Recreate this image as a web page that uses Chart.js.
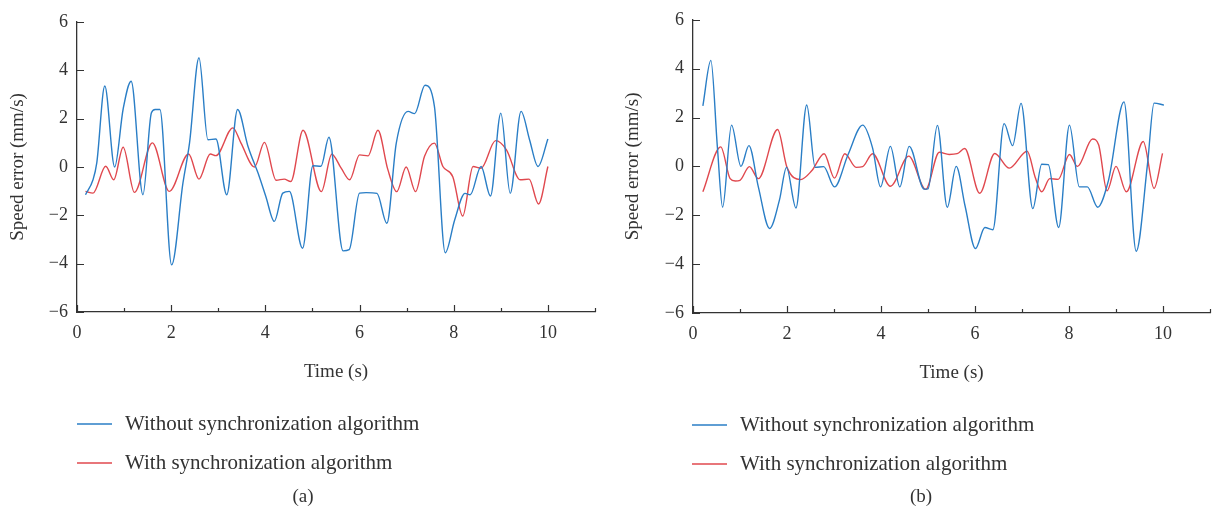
<!DOCTYPE html>
<html>
<head>
<meta charset="utf-8">
<title>Speed error</title>
<script src="https://cdn.jsdelivr.net/npm/chart.js@4.4.1/dist/chart.umd.min.js"></script>
<style>
  body { margin: 0; background: #fff; }
  .panel { position: absolute; top: 0; width: 610px; height: 516px; }
</style>
</head>
<body>
<div class="panel" style="left:0"><canvas id="chartA" width="610" height="516"></canvas></div>
<div class="panel" style="left:610px"><canvas id="chartB" width="610" height="516"></canvas></div>
<script>
// ---- data ----
const seriesLabels = ['Without synchronization algorithm', 'With synchronization algorithm'];
const xTickValues = [0, 2, 4, 6, 8, 10];
const yTickValues = [-6, -4, -2, 0, 2, 4, 6];

// panel (a)
const timeA_without = [0.18, 0.34, 0.42, 0.59, 0.80, 0.98, 1.15, 1.40, 1.58, 1.66, 1.76, 2.01, 2.25, 2.39, 2.59, 2.78, 2.95, 3.18, 3.41, 3.63, 3.87, 4.01, 4.19, 4.37, 4.51, 4.79, 5.01, 5.18, 5.35, 5.65, 5.78, 6.00, 6.14, 6.37, 6.58, 6.78, 7.03, 7.17, 7.39, 7.59, 7.82, 8.02, 8.24, 8.35, 8.58, 8.78, 9.00, 9.20, 9.43, 9.61, 9.79, 10.0];
const speedA_without = [-1.15, -0.53, 0.17, 3.35, 0.0, 2.4, 3.55, -1.15, 2.24, 2.38, 2.38, -4.05, -0.66, 1.0, 4.52, 1.13, 1.16, -1.15, 2.38, 0.86, -0.39, -1.22, -2.25, -1.08, -1.01, -3.36, 0.05, 0.03, 1.23, -3.47, -3.42, -1.08, -1.06, -1.09, -2.33, 0.99, 2.30, 2.21, 3.38, 2.51, -3.55, -2.19, -1.09, -1.15, 0.02, -1.20, 2.23, -1.09, 2.30, 1.13, 0.02, 1.16];
const timeA_with = [0.18, 0.34, 0.61, 0.78, 0.98, 1.22, 1.60, 1.96, 2.37, 2.59, 2.83, 2.95, 3.31, 3.48, 3.77, 3.98, 4.23, 4.40, 4.54, 4.80, 5.19, 5.41, 5.61, 5.79, 6.00, 6.18, 6.39, 6.60, 6.79, 6.99, 7.19, 7.38, 7.59, 7.77, 7.98, 8.19, 8.41, 8.58, 8.89, 9.12, 9.41, 9.60, 9.80, 10.0];
const speedA_with = [-1.01, -1.08, 0.03, -0.53, 0.82, -1.05, 1.0, -1.01, 0.54, -0.5, 0.54, 0.47, 1.62, 1.0, 0.0, 1.02, -0.55, -0.5, -0.6, 1.52, -1.02, 0.53, -0.05, -0.53, 0.5, 0.46, 1.52, -0.1, -1.02, 0.0, -1.02, 0.44, 0.99, 0.02, -0.4, -2.03, 0.02, -0.05, 1.09, 0.71, -0.53, -0.5, -1.53, 0.02];

// panel (b)
const timeB_without = [0.21, 0.38, 0.52, 0.63, 0.82, 1.02, 1.19, 1.39, 1.63, 1.84, 1.99, 2.19, 2.42, 2.60, 2.78, 3.01, 3.30, 3.61, 3.82, 3.99, 4.20, 4.40, 4.60, 4.92, 5.00, 5.20, 5.41, 5.60, 5.79, 6.01, 6.21, 6.38, 6.62, 6.80, 6.98, 7.23, 7.42, 7.56, 7.78, 8.01, 8.22, 8.39, 8.61, 8.84, 9.17, 9.43, 9.67, 9.81, 10.02];
const speedB_without = [2.48, 4.34, 0.76, -1.67, 1.69, 0.0, 0.85, -0.84, -2.54, -1.37, -0.04, -1.7, 2.51, -0.04, -0.01, -0.84, 0.49, 1.69, 0.76, -0.84, 0.82, -0.84, 0.82, -0.93, -0.92, 1.68, -1.67, 0.0, -1.63, -3.36, -2.5, -2.59, 1.75, 0.85, 2.58, -1.73, 0.09, 0.07, -2.5, 1.69, -0.84, -0.84, -1.67, -0.57, 2.64, -3.47, 0.09, 2.59, 2.51];
const timeB_with = [0.21, 0.59, 0.79, 0.90, 1.00, 1.20, 1.39, 1.80, 2.00, 2.29, 2.53, 2.79, 3.01, 3.23, 3.47, 3.61, 3.82, 4.20, 4.59, 4.95, 5.24, 5.45, 5.62, 5.78, 6.10, 6.42, 6.73, 7.11, 7.28, 7.42, 7.59, 7.77, 8.01, 8.18, 8.50, 8.63, 8.81, 9.00, 9.22, 9.58, 9.81, 9.99];
const speedB_with = [-1.04, 0.8, -0.5, -0.6, -0.57, -0.01, -0.5, 1.51, -0.04, -0.54, -0.17, 0.52, -0.48, 0.52, -0.04, -0.01, 0.52, -0.81, 0.42, -0.94, 0.58, 0.49, 0.52, 0.73, -1.1, 0.53, -0.07, 0.62, -0.44, -1.04, -0.5, -0.53, 0.49, 0.0, 1.12, 0.89, -1.0, 0.0, -1.04, 1.02, -0.9, 0.53];

// ---- styling ----
const blue = '#2a7ec6';
const red = '#e0484e';
const ink = '#333333';
const serif = "'Liberation Serif', 'DejaVu Serif', serif";

Chart.defaults.font.family = serif;
Chart.defaults.color = ink;

const toPoints = (xs, ys) => xs.map((x, i) => ({ x, y: ys[i] }));

// inward tick marks, legend and caption under the plot
const figureExtras = {
  id: 'figureExtras',
  afterDraw(chart, args, opts) {
    const { ctx, chartArea } = chart;
    const { x, y } = chart.scales;
    ctx.save();
    ctx.strokeStyle = ink;
    ctx.lineWidth = 1.2;
    ctx.beginPath();
    x.ticks.forEach(t => {
      const px = Math.round(x.getPixelForValue(t.value)) + 0.5;
      const len = xTickValues.includes(t.value) ? 7 : 4;
      ctx.moveTo(px, chartArea.bottom);
      ctx.lineTo(px, chartArea.bottom - len);
    });
    y.ticks.forEach(t => {
      const py = Math.round(y.getPixelForValue(t.value)) + 0.5;
      const len = yTickValues.includes(t.value) ? 7 : 4;
      ctx.moveTo(chartArea.left, py);
      ctx.lineTo(chartArea.left + len, py);
    });
    ctx.stroke();

    // legend
    ctx.font = '21px ' + serif;
    ctx.textBaseline = 'middle';
    ctx.textAlign = 'left';
    chart.data.datasets.forEach((ds, i) => {
      const ly = opts.legendY + i * opts.legendGap;
      ctx.strokeStyle = ds.borderColor;
      ctx.lineWidth = 1.5;
      ctx.beginPath();
      ctx.moveTo(opts.legendX, ly);
      ctx.lineTo(opts.legendX + 35, ly);
      ctx.stroke();
      ctx.fillStyle = ink;
      ctx.fillText(ds.label, opts.legendX + 48, ly);
    });

    // caption
    ctx.font = '19px ' + serif;
    ctx.textAlign = 'center';
    ctx.fillText(opts.caption, opts.captionX, opts.captionY);
    ctx.restore();
  }
};

function makeChart(id, w, r, panel) {
  return new Chart(document.getElementById(id), {
    type: 'line',
    data: {
      datasets: [
        { label: seriesLabels[0], data: toPoints(w[0], w[1]), borderColor: blue, backgroundColor: blue },
        { label: seriesLabels[1], data: toPoints(r[0], r[1]), borderColor: red, backgroundColor: red }
      ]
    },
    options: {
      responsive: false,
      animation: false,
      devicePixelRatio: 1,
      elements: {
        point: { radius: 0 },
        line: { borderWidth: 1.4, cubicInterpolationMode: 'monotone' }
      },
      layout: { padding: panel.padding },
      plugins: {
        legend: { display: false },
        tooltip: { enabled: false },
        figureExtras: panel.extras
      },
      scales: {
        x: {
          type: 'linear',
          min: 0,
          max: 11,
          afterFit: s => { s.height = 71; },
          ticks: {
            stepSize: 1,
            padding: 10,
            font: { size: 18 },
            color: ink,
            callback: v => (xTickValues.includes(v) ? String(v) : '')
          },
          grid: { display: false, drawTicks: false },
          border: { display: true, color: ink, width: 1.3 },
          title: { display: true, text: 'Time (s)', font: { size: 19 }, color: ink, padding: { top: 0, bottom: 0 } }
        },
        y: {
          min: -6,
          max: 6,
          afterFit: s => { s.width = panel.yWidth; },
          ticks: {
            stepSize: 1,
            padding: 9,
            font: { size: 18 },
            color: ink,
            callback: v => (yTickValues.includes(v) ? String(v).replace('-', '\u2212') : '')
          },
          grid: { display: false, drawTicks: false },
          border: { display: true, color: ink, width: 1.3 },
          title: { display: true, text: 'Speed error (mm/s)', font: { size: 19 }, color: ink, padding: { top: panel.yTitlePad, bottom: 0 } }
        }
      }
    },
    plugins: [figureExtras]
  });
}

makeChart('chartA', [timeA_without, speedA_without], [timeA_with, speedA_with], {
  padding: { left: 0, top: 22, right: 15, bottom: 133 },
  yWidth: 77,
  yTitlePad: 7,
  extras: { legendX: 77, legendY: 424, legendGap: 39, caption: '(a)', captionX: 303, captionY: 497 }
});

makeChart('chartB', [timeB_without, speedB_without], [timeB_with, speedB_with], {
  padding: { left: 0, top: 12, right: 1, bottom: 132 },
  yWidth: 83,
  yTitlePad: 12,
  extras: { legendX: 82, legendY: 425, legendGap: 39, caption: '(b)', captionX: 311, captionY: 497 }
});
</script>
</body>
</html>
